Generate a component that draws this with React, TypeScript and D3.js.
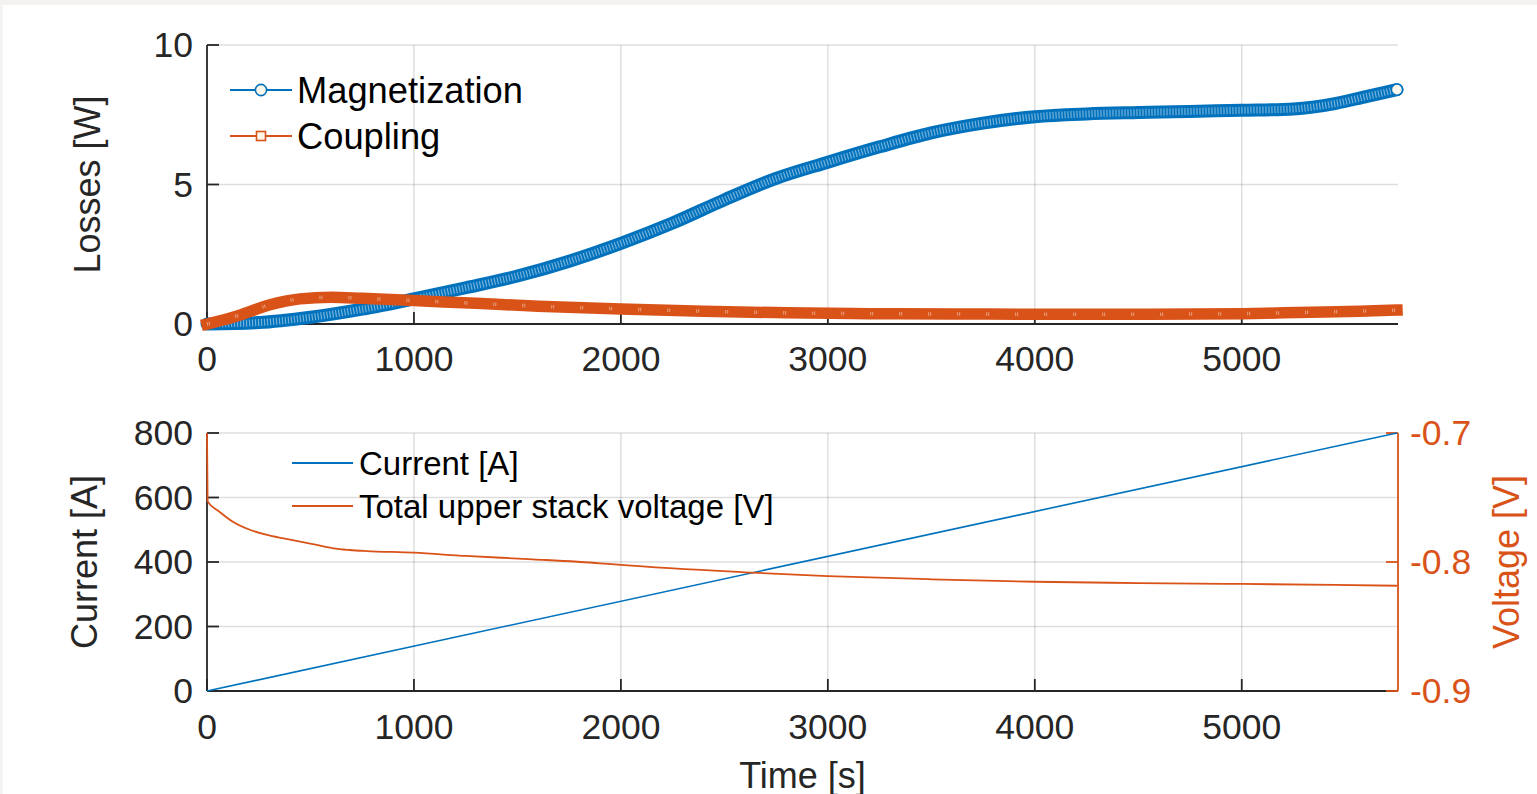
import React from "react";
import * as d3 from "d3";

// ---------- data ----------
const magT = [0, 250, 500, 750, 1000, 1250, 1500, 1750, 2000, 2250, 2500, 2750, 3000, 3250, 3500, 3750, 4000, 4250, 4500, 4750, 5000, 5250, 5450, 5600, 5750];
const magL = [0, 0.05, 0.24, 0.53, 0.9, 1.3, 1.72, 2.25, 2.89, 3.62, 4.45, 5.22, 5.8, 6.35, 6.85, 7.2, 7.43, 7.53, 7.58, 7.62, 7.66, 7.71, 7.9, 8.15, 8.4];

const coupT = [0, 150, 300, 450, 600, 750, 1000, 1300, 1600, 2000, 2400, 2800, 3200, 3600, 4000, 4500, 5000, 5200, 5400, 5570, 5750];
const coupL = [0, 0.3, 0.68, 0.9, 0.96, 0.92, 0.84, 0.74, 0.64, 0.54, 0.46, 0.4, 0.37, 0.36, 0.35, 0.35, 0.37, 0.4, 0.43, 0.46, 0.5];

const curT = [0, 5750];
const curA = [0, 800];

const voltT = [0, 3, 60, 125, 210, 290, 370, 450, 530, 610, 690, 770, 1000, 1250, 1575, 1900, 2000, 2600, 3000, 3500, 4000, 4500, 5000, 5750];
const voltV = [-0.7, -0.753, -0.761, -0.7688, -0.7752, -0.779, -0.7817, -0.7842, -0.7868, -0.7894, -0.7907, -0.7915, -0.7928, -0.7953, -0.7979, -0.801, -0.8023, -0.808, -0.8109, -0.8134, -0.8153, -0.8163, -0.817, -0.8184];

const xTicks = [0, 1000, 2000, 3000, 4000, 5000];
const topYTicks = [0, 5, 10];
const botYTicks = [0, 200, 400, 600, 800];
const rightYTicks = [-0.9, -0.8, -0.7];

const topLegend = ["Magnetization", "Coupling"];
const botLegend = ["Current [A]", "Total upper stack voltage [V]"];

// ---------- style ----------
const BLUE = "#0072BD";
const ORANGE = "#D95319";
const AX = "#262626";
const GRID = "rgba(0,0,0,0.13)";
const FONT = "'Liberation Sans', Arial, Helvetica, sans-serif";
const TICK_FS = 35.5;
const LABEL_FS = 36;
const TL = 12;

export default function App() {
  const x = d3.scaleLinear().domain([0, 5755]).range([207, 1398]);
  const yTop = d3.scaleLinear().domain([0, 10]).range([324, 45]);
  const yBot = d3.scaleLinear().domain([0, 800]).range([691, 433]);
  const yR = d3.scaleLinear().domain([-0.9, -0.7]).range([691, 433]);

  const mag = magT.map((t, i) => [t, magL[i]] as [number, number]);
  const coup = coupT.map((t, i) => [t, coupL[i]] as [number, number]);
  const cur = curT.map((t, i) => [t, curA[i]] as [number, number]);
  const volt = voltT.map((t, i) => [t, voltV[i]] as [number, number]);

  const lineTop = d3.line<[number, number]>().x(d => x(d[0])).y(d => yTop(d[1])).curve(d3.curveMonotoneX);
  const lineCur = d3.line<[number, number]>().x(d => x(d[0])).y(d => yBot(d[1]));
  const lineVolt = d3.line<[number, number]>().x(d => x(d[0])).y(d => yR(d[1])).curve(d3.curveMonotoneX);

  const magPath = lineTop(mag) || "";
  const coupPath = lineTop(coup) || "";
  const last = mag[mag.length - 1];

  const [x0, x1] = x.range();

  const renderXAxis = (yBase: number, yTopEdge: number, labelY: number) => (
    <g>
      {xTicks.filter(t => t > 0).map(t => (
        <line key={"g" + t} x1={x(t)} x2={x(t)} y1={yTopEdge} y2={yBase} stroke={GRID} strokeWidth={1.5} />
      ))}
      <line x1={x0} x2={x1} y1={yBase} y2={yBase} stroke={AX} strokeWidth={1.8} />
      {xTicks.map(t => (
        <g key={"t" + t}>
          <line x1={x(t)} x2={x(t)} y1={yBase} y2={yBase - TL} stroke={AX} strokeWidth={1.8} />
          <text x={x(t)} y={labelY} textAnchor="middle" dominantBaseline="central" fontSize={TICK_FS} fill={AX} fontFamily={FONT}>{t}</text>
        </g>
      ))}
    </g>
  );

  return (
    <svg width={1537} height={794} style={{ position: "absolute", left: 0, top: 0, background: "#fff" }} fontFamily={FONT}>
      <rect x={0} y={0} width={1537} height={794} fill="#fff" />
      <rect x={0} y={0} width={1537} height={5} fill="#f3f2f1" />
      <rect x={0} y={0} width={2.5} height={794} fill="#f3f2f1" />

      {/* ---------- TOP PLOT ---------- */}
      {topYTicks.filter(v => v > 0).map(v => (
        <line key={"tg" + v} x1={x0} x2={x1} y1={yTop(v)} y2={yTop(v)} stroke={GRID} strokeWidth={1.5} />
      ))}
      {renderXAxis(yTop(0), yTop(10), 359)}
      <line x1={x0} x2={x0} y1={yTop(10)} y2={yTop(0)} stroke={AX} strokeWidth={1.8} />
      {topYTicks.map(v => (
        <g key={"ty" + v}>
          <line x1={x0} x2={x0 + TL} y1={yTop(v)} y2={yTop(v)} stroke={AX} strokeWidth={1.8} />
          <text x={193} y={yTop(v)} textAnchor="end" dominantBaseline="central" fontSize={TICK_FS} fill={AX}>{v}</text>
        </g>
      ))}
      <text transform={`translate(${100},${yTop(5)}) rotate(-90)`} textAnchor="middle" fontSize={LABEL_FS} fill={AX}>Losses [W]</text>

      {/* magnetization band (dense circle markers) */}
      <path d={magPath} fill="none" stroke={BLUE} strokeWidth={13} strokeLinecap="round" strokeLinejoin="round" />
      <path d={magPath} fill="none" stroke="#ffffff" strokeOpacity={0.45} strokeWidth={7} strokeDasharray="1.2 1.8" />
      <circle cx={x(last[0])} cy={yTop(last[1])} r={5.6} fill="#fdf6ea" stroke={BLUE} strokeWidth={1.6} />

      {/* coupling band (dense square markers) */}
      <path d={coupPath} fill="none" stroke={ORANGE} strokeWidth={11.5} strokeLinecap="square" strokeLinejoin="round" />
      <path d={coupPath} fill="none" stroke="#ffffff" strokeOpacity={0.45} strokeWidth={3.5} strokeDasharray="1 1 1 26" />

      {/* top legend */}
      {topLegend.map((name, i) => {
        const ly = 90 + i * 46;
        const c = i === 0 ? BLUE : ORANGE;
        return (
          <g key={name}>
            <line x1={230} x2={292} y1={ly} y2={ly} stroke={c} strokeWidth={1.8} />
            {i === 0 ? (
              <circle cx={261} cy={ly} r={5.6} fill="#fdf6ea" stroke={c} strokeWidth={1.6} />
            ) : (
              <rect x={256.5} y={ly - 4.5} width={9} height={9} fill="#fdf6ea" stroke={c} strokeWidth={1.6} />
            )}
            <text x={297} y={ly} dominantBaseline="central" fontSize={36.3} fill="#000">{name}</text>
          </g>
        );
      })}

      {/* ---------- BOTTOM PLOT ---------- */}
      {botYTicks.filter(v => v > 0).map(v => (
        <line key={"bg" + v} x1={x0} x2={x1} y1={yBot(v)} y2={yBot(v)} stroke={GRID} strokeWidth={1.5} />
      ))}
      {renderXAxis(yBot(0), yBot(800), 727)}
      <line x1={x0} x2={x0} y1={yBot(800)} y2={yBot(0)} stroke={AX} strokeWidth={1.8} />
      {botYTicks.map(v => (
        <g key={"by" + v}>
          <line x1={x0} x2={x0 + TL} y1={yBot(v)} y2={yBot(v)} stroke={AX} strokeWidth={1.8} />
          <text x={193} y={yBot(v)} textAnchor="end" dominantBaseline="central" fontSize={TICK_FS} fill={AX}>{v}</text>
        </g>
      ))}
      <text transform={`translate(${97},${(yBot(0) + yBot(800)) / 2}) rotate(-90)`} textAnchor="middle" fontSize={LABEL_FS} fill={AX}>Current [A]</text>

      {/* right axis */}
      <line x1={x1} x2={x1} y1={yR(-0.7)} y2={yR(-0.9)} stroke={ORANGE} strokeWidth={1.8} />
      {rightYTicks.map(v => (
        <g key={"ry" + v}>
          <line x1={x1} x2={x1 - TL} y1={yR(v)} y2={yR(v)} stroke={ORANGE} strokeWidth={1.8} />
          <text x={1410} y={yR(v)} dominantBaseline="central" fontSize={TICK_FS} fill={ORANGE}>{v.toFixed(1)}</text>
        </g>
      ))}
      <text transform={`translate(${1519},${yR(-0.8)}) rotate(-90)`} textAnchor="middle" fontSize={LABEL_FS} fill={ORANGE}>Voltage [V]</text>

      <text x={(x0 + x1) / 2} y={775} textAnchor="middle" dominantBaseline="central" fontSize={LABEL_FS} fill={AX}>Time [s]</text>

      <path d={lineCur(cur) || ""} fill="none" stroke={BLUE} strokeWidth={1.6} />
      <path d={lineVolt(volt) || ""} fill="none" stroke={ORANGE} strokeWidth={1.8} />

      {/* bottom legend */}
      {botLegend.map((name, i) => {
        const ly = 463 + i * 43;
        const c = i === 0 ? BLUE : ORANGE;
        return (
          <g key={name}>
            <line x1={292} x2={353} y1={ly} y2={ly} stroke={c} strokeWidth={1.8} />
            <text x={359} y={ly} dominantBaseline="central" fontSize={33} fill="#000">{name}</text>
          </g>
        );
      })}
    </svg>
  );
}
